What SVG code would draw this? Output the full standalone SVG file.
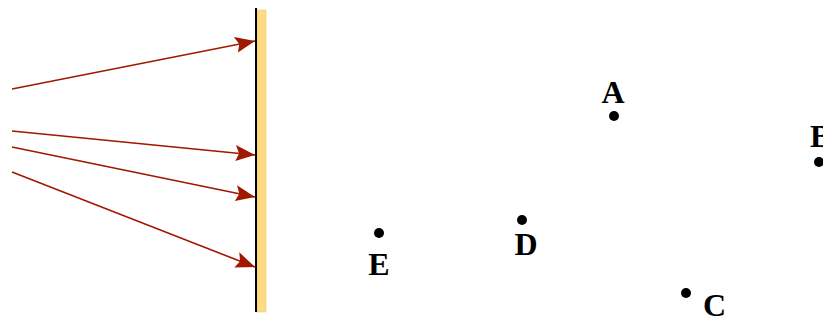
<svg xmlns="http://www.w3.org/2000/svg" width="823" height="320" viewBox="0 0 823 320">
<style>
.ray{stroke:#a01800;stroke-width:1.6;fill:none;marker-end:url(#ah)}
.dot{fill:#000}
.lbl{font-family:"Liberation Serif","Times New Roman",serif;font-weight:bold;font-size:32px;fill:#000}
</style>
<defs>
<marker id="ah" markerUnits="userSpaceOnUse" markerWidth="24" markerHeight="20" refX="20" refY="10" orient="auto">
<polygon points="0,2 20,10 1,18 4,10" fill="#a01800"/>
</marker>
</defs>
<rect width="823" height="320" fill="#fff"/>
<g id="mirror">
<rect x="257" y="10" width="9" height="302" fill="#fddc83" stroke="#e8c46a" stroke-width="0.5"/>
<line x1="256" y1="8" x2="256" y2="312" stroke="#000" stroke-width="2"/>
</g>
<g id="connectors">
<line class="ray" x1="12" y1="89" x2="255" y2="41"/>
<line class="ray" x1="12" y1="131" x2="255" y2="155"/>
<line class="ray" x1="12" y1="147" x2="255" y2="197"/>
<line class="ray" x1="12" y1="172" x2="255" y2="267"/>
</g>
<g id="A"><circle class="dot" cx="614" cy="116" r="5"/><text class="lbl" x="613" y="103" text-anchor="middle">A</text></g>
<g id="B"><circle class="dot" cx="819" cy="162" r="5"/><text class="lbl" x="810" y="147">B</text></g>
<g id="C"><circle class="dot" cx="686" cy="293" r="5"/><text class="lbl" x="703" y="316">C</text></g>
<g id="D"><circle class="dot" cx="522" cy="220" r="5"/><text class="lbl" x="526" y="255" text-anchor="middle">D</text></g>
<g id="E"><circle class="dot" cx="379" cy="233" r="5"/><text class="lbl" x="379" y="275" text-anchor="middle">E</text></g>
</svg>
